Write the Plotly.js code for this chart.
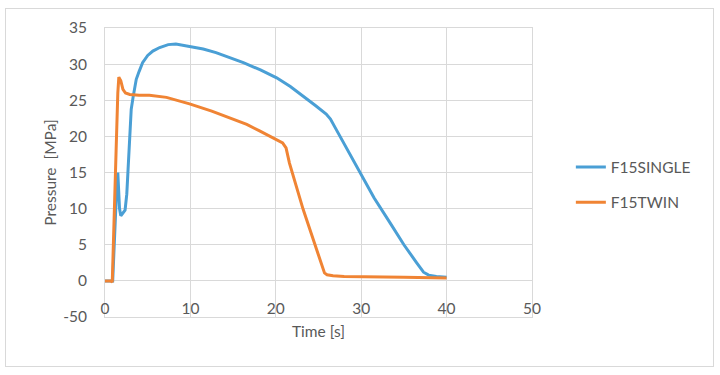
<!DOCTYPE html>
<html>
<head>
<meta charset="utf-8">
<script src="https://cdn.plot.ly/plotly-3.0.1.min.js"></script>
<style>
  html, body { margin: 0; padding: 0; background: #fff; }
  #wrap { position: relative; width: 720px; height: 375px; }
  #frame { position: absolute; left: 5px; top: 8px; width: 709px; height: 359px; border: 1px solid #d9d9d9; box-sizing: border-box; pointer-events: none; z-index: 2; }
  #chart { position: absolute; left: 0; top: 0; width: 720px; height: 375px; }
</style>
</head>
<body>
<div id="wrap">
  <div id="chart"></div>
  <div id="frame"></div>
</div>
<script>
// F15SINGLE
const singleTime = [0, 0.9, 1.3, 1.5, 1.7, 1.85, 2.35, 2.55, 2.7, 2.9, 3.07, 3.3, 3.66, 4.0, 4.4, 5.0, 5.6, 6.4, 7.4, 8.3, 9.9, 11.5, 13.0, 14.6, 16.2, 18.2, 20.1, 21.7, 23.2, 24.6, 25.9, 26.4, 27.1, 28.5, 29.8, 31.5, 33.4, 35.0, 36.5, 37.3, 37.9, 38.8, 40.0];
const singleP    = [0, 0,   11,  15,  10,  9.0,  9.8,  12,   15.4, 21,  23.75, 25.5, 27.9, 29.0, 30.2, 31.2, 31.8, 32.3, 32.7, 32.8, 32.5, 32.1, 31.6, 30.95, 30.2, 29.2, 28.1, 26.9, 25.6, 24.3, 23.1, 22.4, 20.9, 17.9, 15.0, 11.5, 8.0,  5.0,  2.5,  1.2,  0.8,  0.6,  0.5];
// F15TWIN
const twinTime = [0, 0.7, 0.85, 1.0, 1.3, 1.5, 1.62, 1.85, 2.1, 2.4, 2.9, 4.0, 5.2, 7.2, 9.9, 12.5, 15.0, 16.6, 18.1, 19.5, 20.8, 21.2, 21.4, 21.6, 23.2, 24.8, 25.7, 26.0, 26.7, 28.0, 29.8, 35.0, 40.0];
const twinP    = [0, 0,   -0.2, 5,   18,  26,  28.2, 27.7, 26.5, 26.0, 25.8, 25.7, 25.7, 25.4, 24.5, 23.5, 22.4, 21.65, 20.75, 19.9, 19.1, 18.4, 17.5, 16.3, 9.9,  4.3,  1.1,  0.85, 0.7,  0.6,  0.55, 0.5,  0.4];

const xTicks = [0, 10, 20, 30, 40, 50];
const yTickVals = [-5, 0, 5, 10, 15, 20, 25, 30, 35];
const yTickText = ["-50", "0", "5", "10", "15", "20", "25", "30", "35"];

const seriesNames = ["F15SINGLE", "F15TWIN"];

const font = "Lato, 'Open Sans', sans-serif";
const fs = 15.5;
const grey = "#595959";
const grid = "#d9d9d9";

const traces = [
  { x: singleTime, y: singleP, name: seriesNames[0], mode: "lines", type: "scatter",
    line: { color: "#4a9fd5", width: 3 }, legendgroup: "a" },
  { x: twinTime, y: twinP, name: seriesNames[1], mode: "lines", type: "scatter",
    line: { color: "#f08434", width: 3 }, legendgroup: "b" }
];

const layout = {
  width: 720, height: 375,
  margin: { l: 105, r: 188, t: 28, b: 58 },
  paper_bgcolor: "#fff", plot_bgcolor: "#fff",
  font: { family: font, size: fs, color: grey },
  showlegend: true,
  legend: { x: 1.091, xanchor: "left", y: 0.457, yanchor: "middle",
            font: { family: font, size: fs, color: grey }, tracegroupgap: 12, itemwidth: 30 },
  xaxis: {
    range: [0, 50], tickvals: xTicks, ticktext: xTicks.map(String),
    showgrid: true, gridcolor: grid, gridwidth: 1,
    showline: true, linecolor: grid, mirror: true, zeroline: false,
    ticks: "", ticklabelposition: "inside", ticklabeloverflow: "allow",
    tickfont: { family: font, size: fs, color: grey },
    title: { text: "Time [s]", font: { family: font, size: fs, color: grey }, standoff: 10 },
    fixedrange: true
  },
  yaxis: {
    range: [-5, 35], tickvals: yTickVals, ticktext: yTickText,
    showgrid: true, gridcolor: grid, gridwidth: 1,
    showline: true, linecolor: grid, mirror: true, zeroline: false,
    ticks: "", ticklabelstandoff: 14,
    tickfont: { family: font, size: fs, color: grey },
    title: { text: "Pressure\u00a0\u00a0[MPa]", font: { family: font, size: fs, color: grey }, standoff: 2 },
    fixedrange: true
  }
};

Plotly.newPlot("chart", traces, layout, { displayModeBar: false, staticPlot: true });
</script>
</body>
</html>
